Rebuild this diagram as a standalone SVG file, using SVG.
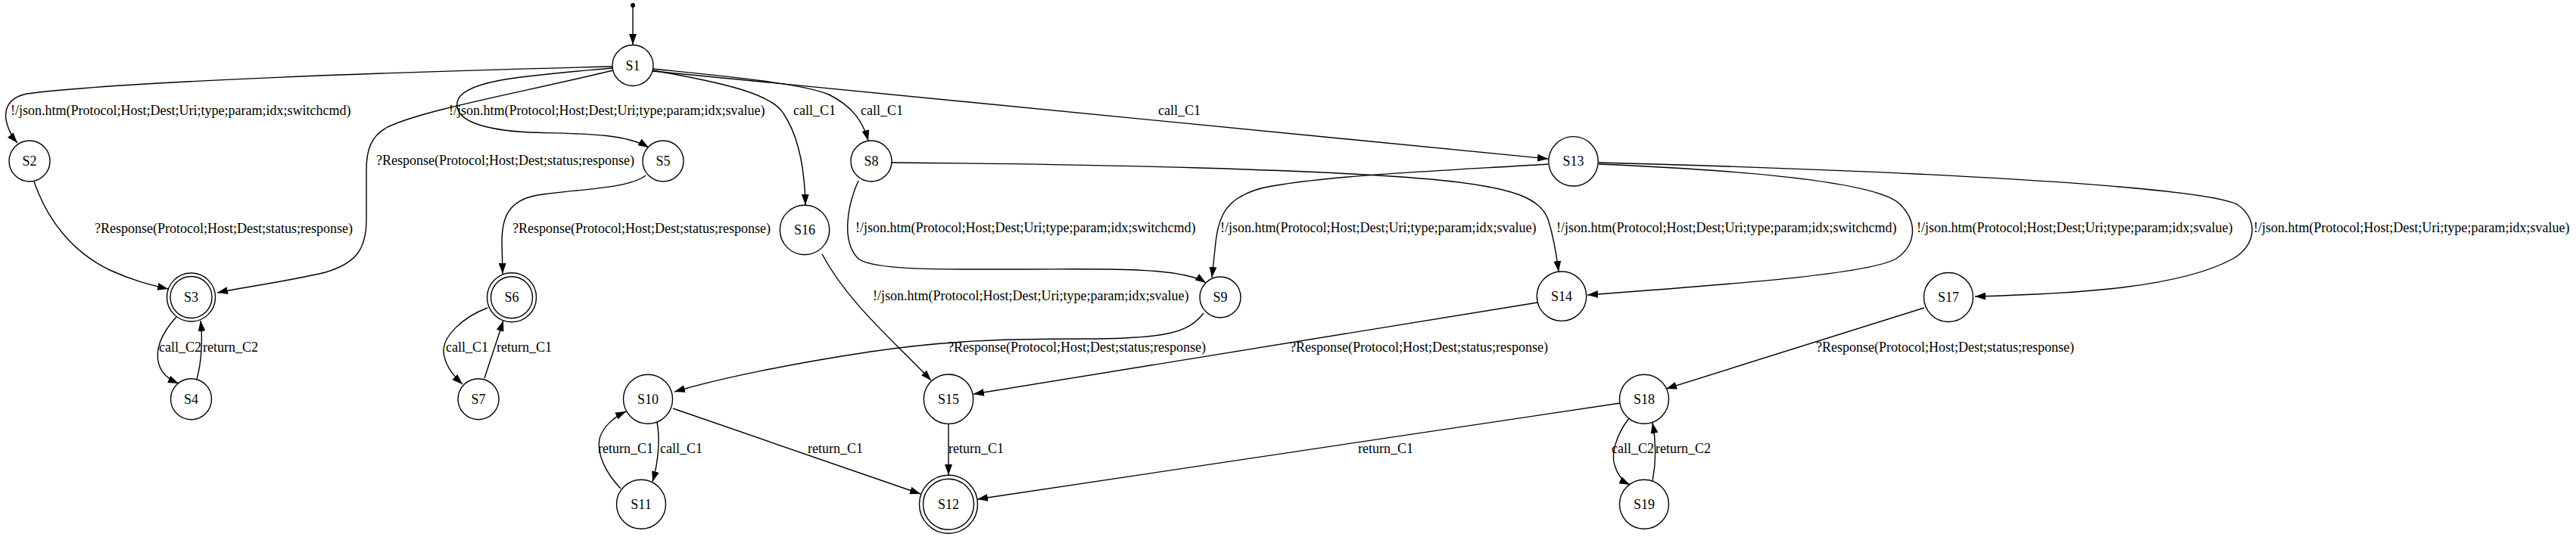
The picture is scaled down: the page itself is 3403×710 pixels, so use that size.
<svg xmlns="http://www.w3.org/2000/svg" width="3403" height="710" viewBox="0 0 3403 710">
<style>
  .e { fill: none; stroke: #000; stroke-width: 1.4; marker-end: url(#a); }
  .n { fill: #fff; stroke: #000; stroke-width: 1.4; }
  .t { font-family: "Liberation Serif", "Times New Roman", serif; font-size: 18px; fill: #000; }
  .c { text-anchor: middle; }
</style>
<defs>
  <marker id="a" markerWidth="14" markerHeight="10" refX="14" refY="5" orient="auto" markerUnits="userSpaceOnUse">
    <path d="M0,0 L14,5 L0,10 z" fill="#000"/>
  </marker>
</defs>
<rect width="3403" height="710" fill="#fff"/>
<g id="connectors">
  <circle cx="836" cy="7" r="3" fill="#000"/>
  <path class="e" d="M836,8 L836,59"/>
  <!-- S1->S2 -->
  <path class="e" d="M809,88 C 520,95 160,108 35,124 C 8,130 5,148 9,163 C 12,174 16,181 23,189"/>
  <text class="t" x="14" y="152">!/json.htm(Protocol;Host;Dest;Uri;type;param;idx;switchcmd)</text>
  <!-- S1->S3 -->
  <path class="e" d="M810,93 C 690,122 560,145 512,168 C 489,180 484,200 484,225 L 484,290 C 484,330 470,348 430,360 C 380,372 320,380 287,387"/>
  <text class="t" x="497" y="218">?Response(Protocol;Host;Dest;status;response)</text>
  <!-- S1->S5 -->
  <path class="e" d="M809,90 C 700,100 610,105 604,135 C 600,160 640,172 700,175 C 770,177 825,176 857,195"/>
  <text class="t" x="593" y="152">!/json.htm(Protocol;Host;Dest;Uri;type;param;idx;svalue)</text>
  <!-- S1->S16 -->
  <path class="e" d="M862,93 C 960,110 1020,125 1035,150 C 1055,180 1063,220 1064,271"/>
  <text class="t" x="1048" y="152">call_C1</text>
  <!-- S1->S8 -->
  <path class="e" d="M862,91 C 950,100 1060,110 1095,125 C 1125,140 1140,160 1147,186"/>
  <text class="t" x="1137" y="152">call_C1</text>
  <!-- S1->S13 -->
  <path class="e" d="M862,94 L2045,210"/>
  <text class="t" x="1530" y="152">call_C1</text>
  <!-- S2->S3 -->
  <path class="e" d="M45,240 C 62,290 95,333 145,357 C 175,371 200,377 222,382"/>
  <text class="t" x="125" y="308">?Response(Protocol;Host;Dest;status;response)</text>
  <!-- S3->S4 -->
  <path class="e" d="M233,419 C 214,440 204,462 210,482 C 214,494 222,501 236,507"/>
  <text class="t" x="210" y="465">call_C2</text>
  <!-- S4->S3 -->
  <path class="e" d="M260,501 C 266,480 268,450 265,424"/>
  <text class="t" x="268" y="465">return_C2</text>
  <!-- S5->S6 -->
  <path class="e" d="M853,232 C 830,250 760,250 710,258 C 670,265 663,290 663,320 L 664,362"/>
  <text class="t" x="677" y="308">?Response(Protocol;Host;Dest;status;response)</text>
  <!-- S6->S7 -->
  <path class="e" d="M644,407 C 610,420 585,445 586,465 C 587,482 598,496 611,508"/>
  <text class="t" x="589" y="465">call_C1</text>
  <!-- S7->S6 -->
  <path class="e" d="M640,500 L665,424"/>
  <text class="t" x="656" y="465">return_C1</text>
  <!-- S16->S15 -->
  <path class="e" d="M1086,336 C 1120,400 1180,450 1230,503"/>
  <text class="t" x="1153" y="397">!/json.htm(Protocol;Host;Dest;Uri;type;param;idx;svalue)</text>
  <!-- S8->S9 -->
  <path class="e" d="M1134,239 C 1120,270 1110,320 1135,343 C 1160,358 1250,356 1350,356 C 1450,356 1560,352 1593,374"/>
  <text class="t" x="1130" y="307">!/json.htm(Protocol;Host;Dest;Uri;type;param;idx;switchcmd)</text>
  <!-- S8->S14 -->
  <path class="e" d="M1178,215 C 1450,217 1750,224 1900,238 C 2000,248 2035,262 2045,290 C 2052,312 2056,335 2059,359"/>
  <text class="t" x="2056" y="307">!/json.htm(Protocol;Host;Dest;Uri;type;param;idx;switchcmd)</text>
  <!-- S13->S9 -->
  <path class="e" d="M2045,217 C 1900,226 1750,232 1670,248 C 1620,260 1610,285 1606,320 L 1601,367"/>
  <text class="t" x="1612" y="307">!/json.htm(Protocol;Host;Dest;Uri;type;param;idx;svalue)</text>
  <!-- S13->S14 -->
  <path class="e" d="M2112,217 C 2300,225 2480,240 2510,270 C 2535,295 2530,325 2505,342 C 2470,362 2300,375 2097,390"/>
  <text class="t" x="2532" y="307">!/json.htm(Protocol;Host;Dest;Uri;type;param;idx;svalue)</text>
  <!-- S13->S17 -->
  <path class="e" d="M2112,215 C 2500,225 2900,245 2955,270 C 2985,290 2980,325 2950,342 C 2880,380 2750,388 2609,392"/>
  <text class="t" x="2977" y="307">!/json.htm(Protocol;Host;Dest;Uri;type;param;idx;svalue)</text>
  <!-- S9->S10 -->
  <path class="e" d="M1590,414 C 1570,440 1540,448 1430,448 C 1330,448 1250,450 1150,465 C 1050,480 950,500 891,518"/>
  <text class="t" x="1252" y="465">?Response(Protocol;Host;Dest;status;response)</text>
  <!-- S14->S15 -->
  <path class="e" d="M2031,400 L1286,521"/>
  <text class="t" x="1704" y="465">?Response(Protocol;Host;Dest;status;response)</text>
  <!-- S17->S18 -->
  <path class="e" d="M2542,407 L2201,514"/>
  <text class="t" x="2399" y="465">?Response(Protocol;Host;Dest;status;response)</text>
  <!-- S15->S12 -->
  <path class="e" d="M1253,561 L1253,628"/>
  <text class="t" x="1253" y="599">return_C1</text>
  <!-- S10->S12 -->
  <path class="e" d="M889,540 L1216,653"/>
  <text class="t" x="1067" y="599">return_C1</text>
  <!-- S18->S12 -->
  <path class="e" d="M2140,533 L1291,660"/>
  <text class="t" x="1794" y="599">return_C1</text>
  <!-- S10->S11 -->
  <path class="e" d="M868,558 C 872,580 870,610 862,637"/>
  <text class="t" x="872" y="599">call_C1</text>
  <!-- S11->S10 -->
  <path class="e" d="M820,646 C 800,625 788,600 792,580 C 796,565 810,552 827,544"/>
  <text class="t" x="790" y="599">return_C1</text>
  <!-- S18->S19 -->
  <path class="e" d="M2152,553 C 2135,575 2128,600 2133,615 C 2137,628 2143,636 2153,641"/>
  <text class="t" x="2129" y="599">call_C2</text>
  <!-- S19->S18 -->
  <path class="e" d="M2183,636 C 2188,610 2188,585 2183,559"/>
  <text class="t" x="2187" y="599">return_C2</text>
</g>
<g id="S1"><circle class="n" cx="836" cy="86.5" r="27"/><text class="t c" x="836" y="92.5">S1</text></g>
<g id="S2"><circle class="n" cx="39" cy="213" r="27"/><text class="t c" x="39" y="219">S2</text></g>
<g id="S3"><circle class="n" cx="252.5" cy="393" r="32"/><circle class="n" cx="252.5" cy="393" r="27.5"/><text class="t c" x="252.5" y="399">S3</text></g>
<g id="S4"><circle class="n" cx="252.5" cy="527.7" r="27"/><text class="t c" x="252.5" y="533.7">S4</text></g>
<g id="S5"><circle class="n" cx="876" cy="213" r="27"/><text class="t c" x="876" y="219">S5</text></g>
<g id="S6"><circle class="n" cx="676" cy="393.3" r="32.5"/><circle class="n" cx="676" cy="393.3" r="27.5"/><text class="t c" x="676" y="399.3">S6</text></g>
<g id="S7"><circle class="n" cx="632" cy="527.7" r="27"/><text class="t c" x="632" y="533.7">S7</text></g>
<g id="S8"><circle class="n" cx="1151" cy="213" r="27"/><text class="t c" x="1151" y="219">S8</text></g>
<g id="S9"><circle class="n" cx="1612" cy="393" r="27"/><text class="t c" x="1612" y="399">S9</text></g>
<g id="S10"><circle class="n" cx="856" cy="527.7" r="32.5"/><text class="t c" x="856" y="533.7">S10</text></g>
<g id="S11"><circle class="n" cx="847" cy="666.7" r="32.5"/><text class="t c" x="847" y="672.7">S11</text></g>
<g id="S12"><circle class="n" cx="1253" cy="666.7" r="38.5"/><circle class="n" cx="1253" cy="666.7" r="33.5"/><text class="t c" x="1253" y="672.7">S12</text></g>
<g id="S13"><circle class="n" cx="2078.5" cy="213.3" r="32.7"/><text class="t c" x="2078.5" y="219.3">S13</text></g>
<g id="S14"><circle class="n" cx="2063" cy="391.7" r="32.7"/><text class="t c" x="2063" y="397.7">S14</text></g>
<g id="S15"><circle class="n" cx="1253" cy="527.7" r="32.7"/><text class="t c" x="1253" y="533.7">S15</text></g>
<g id="S16"><circle class="n" cx="1063" cy="304" r="32.7"/><text class="t c" x="1063" y="310">S16</text></g>
<g id="S17"><circle class="n" cx="2574" cy="393" r="32.5"/><text class="t c" x="2574" y="399">S17</text></g>
<g id="S18"><circle class="n" cx="2172" cy="527.7" r="32.5"/><text class="t c" x="2172" y="533.7">S18</text></g>
<g id="S19"><circle class="n" cx="2172" cy="666.7" r="32.5"/><text class="t c" x="2172" y="672.7">S19</text></g>
</svg>
